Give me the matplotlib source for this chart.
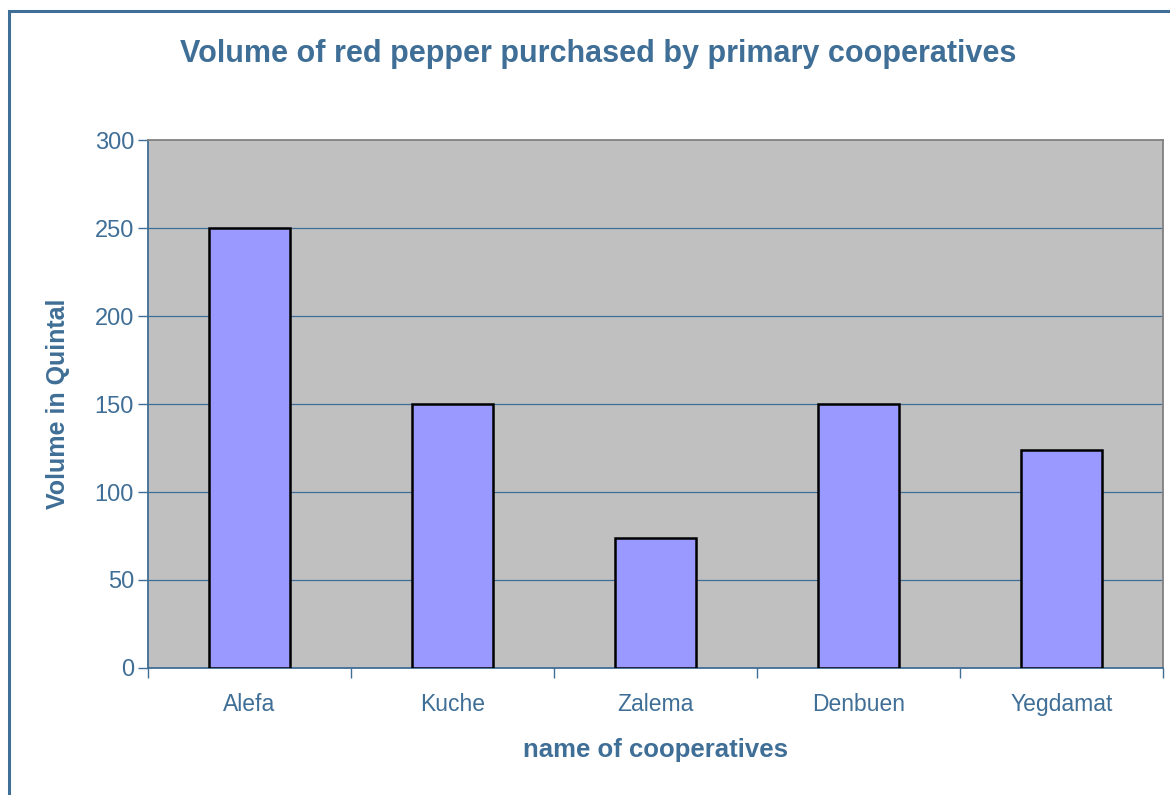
import matplotlib.pyplot as plt
from matplotlib.patches import Rectangle
from matplotlib.ticker import FixedLocator, NullFormatter


cooperatives = ["Alefa", "Kuche", "Zalema", "Denbuen", "Yegdamat"]
volumes = [250, 150, 74, 150, 124]
y_ticks = [0, 50, 100, 150, 200, 250, 300]

BLUE = "#3F6E96"
GRAY_BG = "#C0C0C0"
BAR_COLOR = "#9999FF"

plt.rcParams["font.family"] = ["Liberation Sans", "DejaVu Sans"]

fig = plt.figure(figsize=(11.7, 7.95), dpi=100)

# outer chart frame (right and bottom edges fall outside the picture)
fig.patches.append(
    Rectangle((9 / 1170, -0.05), 1.2, 1 - 11 / 795 + 0.05,
              transform=fig.transFigure, fill=False, edgecolor=BLUE, linewidth=2.2)
)

ax = fig.add_axes([148 / 1170, 1 - 668 / 795, (1163 - 148) / 1170, (668 - 140) / 795])
ax.set_facecolor(GRAY_BG)

x = list(range(len(cooperatives)))
ax.bar(x, volumes, width=0.4, color=BAR_COLOR, edgecolor="black", linewidth=1.8, zorder=3)

ax.set_xlim(-0.5, len(cooperatives) - 0.5)
ax.set_ylim(0, 300)
ax.set_yticks(y_ticks)
for yv in y_ticks[1:-1]:
    ax.axhline(yv, color=BLUE, linewidth=0.9, zorder=1)

ax.xaxis.set_major_locator(FixedLocator([i - 0.5 for i in range(len(cooperatives) + 1)]))
ax.xaxis.set_major_formatter(NullFormatter())
ax.xaxis.set_minor_locator(FixedLocator(x))
ax.set_xticklabels(cooperatives, minor=True)
ax.tick_params(axis="x", which="major", length=7, width=1, color=BLUE, direction="out")
ax.tick_params(axis="x", which="minor", length=0, pad=18, labelsize=16.5, labelcolor=BLUE)
ax.tick_params(axis="y", length=7, width=1, color=BLUE, direction="out",
               labelsize=17, labelcolor=BLUE, pad=3)

ax.spines["left"].set_color(BLUE)
ax.spines["bottom"].set_color(BLUE)
ax.spines["top"].set_color("#808080")
ax.spines["right"].set_color("#808080")
for s in ax.spines.values():
    s.set_linewidth(1.3)

ax.set_xlabel("name of cooperatives", fontsize=18.5, fontweight="bold", color=BLUE, labelpad=16)
ax.set_ylabel("Volume in Quintal", fontsize=18, fontweight="bold", color=BLUE, labelpad=18)

fig.text(0.5115, 1 - 54 / 795, "Volume of red pepper purchased by primary cooperatives",
         ha="center", va="center", fontsize=22, fontweight="bold", color=BLUE)

fig.savefig("out.png", dpi=100)
